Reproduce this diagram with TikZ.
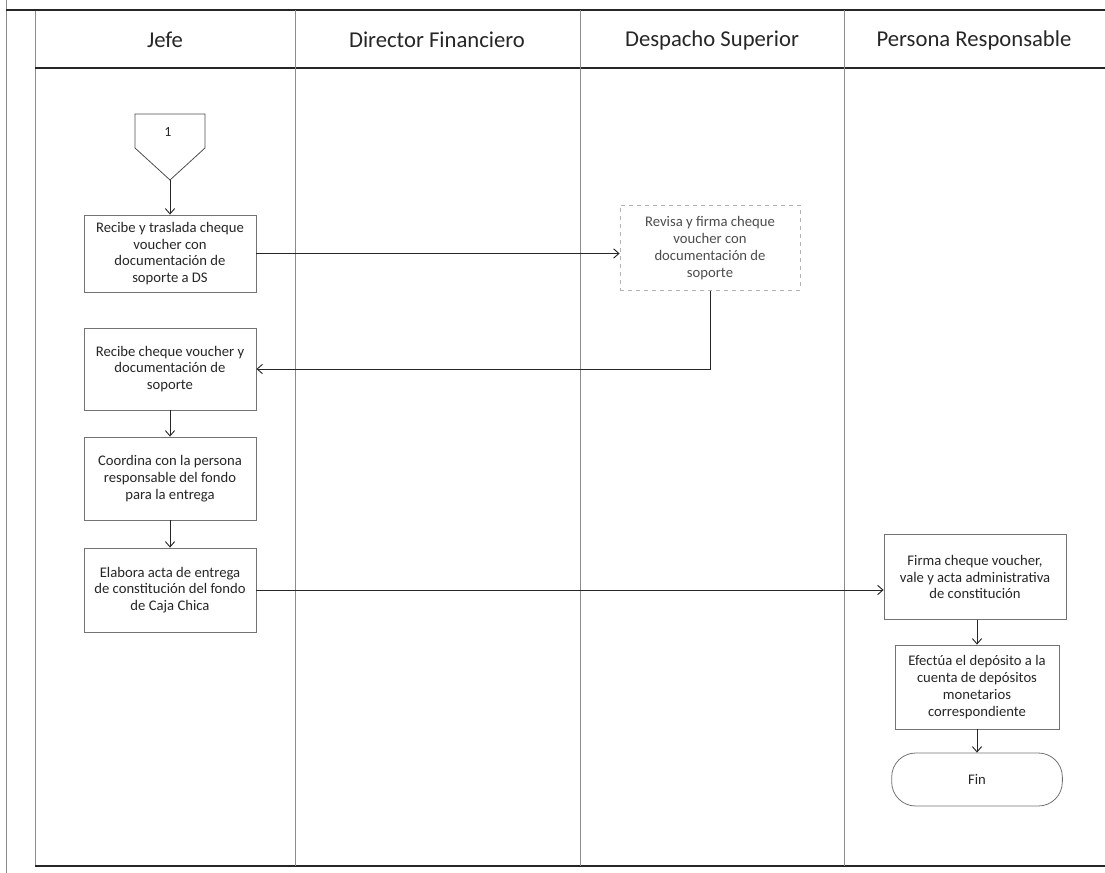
\documentclass[tikz,border=0pt]{standalone}
\usepackage{fontspec}
\setmainfont{Carlito}
\usetikzlibrary{arrows.meta,calc}
\begin{document}
\begin{tikzpicture}[x=0.75pt,y=-0.75pt,
  frame/.style={line width=0.9pt,draw=black!85},
  lane/.style={line width=0.5pt,draw=black!45},
  lanehead/.style={font=\fontsize{17}{20}\selectfont,text=black!85},
  procbox/.style={draw=black!55,line width=0.6pt,align=center,inner sep=2pt,
    font=\fontsize{11}{12.6}\selectfont,text=black!85},
  faintbox/.style={procbox,draw=black!30,dashed,text=black!70},
  endbox/.style={procbox,rounded corners=18pt},
  flow/.style={draw=black!85,line width=0.7pt,-{Straight Barb[length=4pt,width=7pt]}},
]
\useasboundingbox (0,0) rectangle (1105,873);

% swimlane frame
\draw[lane] (6,0) -- (6,873);
\draw[lane] (35,10) -- (35,866);
\draw[frame] (6,10) -- (1105,10);
\draw[frame] (35,68) -- (1105,68);
\draw[frame] (35,866) -- (1105,866);
\foreach \x in {295,580,844} \draw[lane] (\x,10) -- (\x,866);

% lane titles
\node[lanehead] (hjefe) at (165,40) {Jefe};
\node[lanehead] (hdir) at (437,40) {Director Financiero};
\node[lanehead] (hdesp) at (712,40) {Despacho Superior};
\node[lanehead] (hpers) at (974,40) {Persona Responsable};

% off-page connector
\draw[draw=black!70,line width=0.6pt] (135,114) -- (205,114) -- (205,148) -- (170,180) -- (135,148) -- cycle;
\node[font=\fontsize{10.5}{12}\selectfont,text=black!85] (onelabel) at (168,132) {1};
\coordinate (optip) at (170,180);

% Jefe
\node[procbox,minimum width=129pt,minimum height=57.75pt] (recibe) at (170,253.5)
  {Recibe y traslada cheque\\voucher con\\documentación de\\soporte a DS};
\node[procbox,minimum width=129pt,minimum height=61.5pt] (recibecheque) at (170,369)
  {Recibe cheque voucher y\\documentación de\\soporte};
\node[procbox,minimum width=129pt,minimum height=62.25pt] (coordina) at (170,478.5)
  {Coordina con la persona\\responsable del fondo\\para la entrega};
\node[procbox,minimum width=129pt,minimum height=63pt] (elabora) at (170,590)
  {Elabora acta de entrega\\de constitución del fondo\\de Caja Chica};

% Despacho Superior
\node[faintbox,minimum width=135pt,minimum height=63.75pt] (revisa) at (710,248)
  {Revisa y firma cheque\\voucher con\\documentación de\\soporte};

% Persona Responsable
\node[procbox,minimum width=136.5pt,minimum height=63.75pt] (firma) at (975,577)
  {Firma cheque voucher,\\vale y acta administrativa\\de constitución};
\node[procbox,minimum width=123pt,minimum height=63pt] (efectua) at (977,687)
  {Efectúa el depósito a la\\cuenta de depósitos\\monetarios\\correspondiente};
\node[endbox,minimum width=128pt,minimum height=39.75pt] (fin) at (977,779.5) {Fin};

% connectors
\draw[flow] (optip) -- (recibe.north);
\draw[flow] (recibe.east) -- (recibe.east -| revisa.west);
\draw[flow] (revisa.south) |- (recibecheque.east);
\draw[flow] (recibecheque) -- (coordina);
\draw[flow] (coordina) -- (elabora);
\draw[flow] (elabora.east) -- (elabora.east -| firma.west);
\draw[flow] (firma.south -| efectua.north) -- (efectua.north);
\draw[flow] (efectua) -- (fin);
\end{tikzpicture}
\end{document}
